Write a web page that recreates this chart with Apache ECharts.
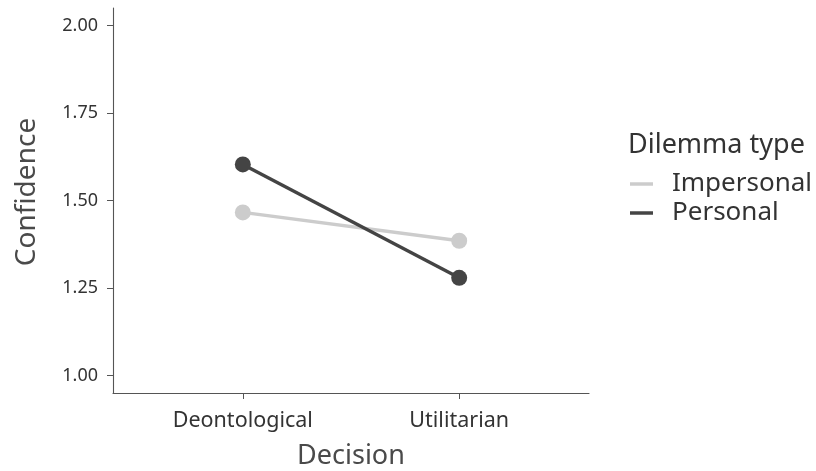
<!DOCTYPE html>
<html>
<head>
<meta charset="utf-8">
<script src="https://cdn.jsdelivr.net/npm/echarts@6/dist/echarts.min.js"></script>
<style>html,body{margin:0;padding:0;background:#fff}#c{width:816px;height:471px}</style>
</head>
<body>
<div id="c"></div>
<script>
const categories = ['Deontological', 'Utilitarian'];
const impersonal = [1.466, 1.385];
const personal = [1.603, 1.279];
const yTicks = [1.00, 1.25, 1.50, 1.75, 2.00];
const seriesNames = ['Impersonal', 'Personal'];

const FONT = 'Noto Sans';
const chart = echarts.init(document.getElementById('c'), null, {renderer: 'canvas'});
const toPts = arr => arr.map((v, i) => [i + 1, v]);

chart.setOption({
  animation: false,
  textStyle: {fontFamily: FONT},
  grid: {left: 113, right: 227, top: 8, bottom: 78, containLabel: false, outerBoundsMode: 'none'},
  xAxis: {
    type: 'value', min: 0.4, max: 2.6,
    name: 'Decision', nameLocation: 'middle', nameGap: 50,
    nameTextStyle: {fontSize: 27, color: '#4a4a4a', fontFamily: FONT},
    axisLine: {show: true, lineStyle: {color: '#555', width: 1.1}},
    axisTick: {show: true, length: 6, customValues: [1, 2], lineStyle: {color: '#555'}},
    axisLabel: {customValues: [1, 2], margin: 17, fontSize: 21.5, color: '#333', fontFamily: FONT,
      formatter: v => categories[Math.round(v) - 1] || ''},
    splitLine: {show: false}
  },
  yAxis: {
    type: 'value', min: 0.95, max: 2.05,
    axisLine: {show: true, lineStyle: {color: '#555', width: 1.1}},
    axisTick: {show: true, length: 6, customValues: yTicks, lineStyle: {color: '#555'}},
    axisLabel: {customValues: yTicks, margin: 15, fontSize: 18, color: '#333', fontFamily: FONT,
      formatter: v => v.toFixed(2)},
    splitLine: {show: false}
  },
  legend: {
    orient: 'vertical', left: 625, top: 166,
    data: seriesNames, icon: 'rect', itemWidth: 23, itemHeight: 3.5, itemGap: 3,
    textStyle: {fontSize: 26, color: '#333', fontFamily: FONT, padding: [0, 0, 0, 14]}
  },
  graphic: [{
    type: 'text', left: 628, top: 132,
    style: {text: 'Dilemma type', fontSize: 27, fill: '#333', fontFamily: FONT}
  }, {
    type: 'text', x: 27, y: 192, rotation: Math.PI / 2,
    style: {text: 'Confidence', fontSize: 28, fill: '#4a4a4a', fontFamily: FONT,
      align: 'center', verticalAlign: 'middle'}
  }],
  series: [
    {name: seriesNames[0], type: 'line', data: toPts(impersonal), symbol: 'circle', symbolSize: 16,
      itemStyle: {color: '#cccccc'}, lineStyle: {width: 3.4, color: '#cccccc'}, z: 2},
    {name: seriesNames[1], type: 'line', data: toPts(personal), symbol: 'circle', symbolSize: 16,
      itemStyle: {color: '#444444'}, lineStyle: {width: 3.4, color: '#444444'}, z: 3}
  ]
});
</script>
</body>
</html>
